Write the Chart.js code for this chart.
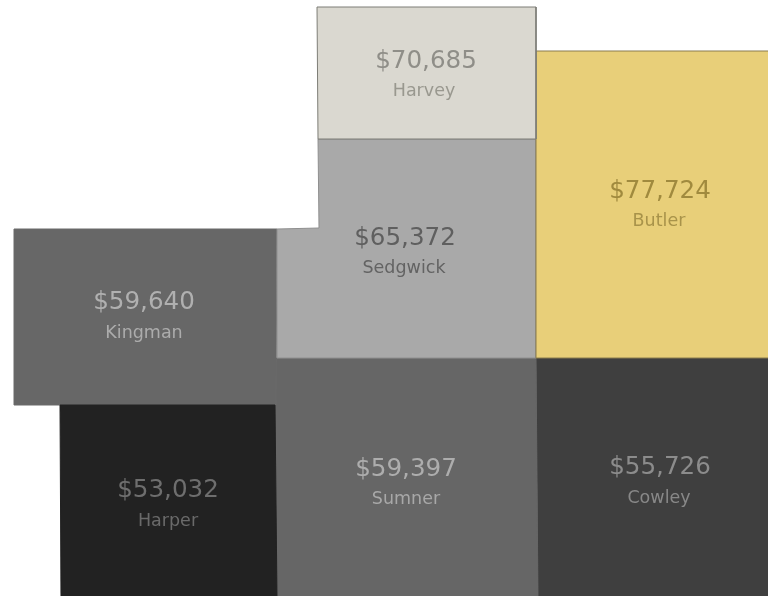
<!DOCTYPE html>
<html>
<head>
<meta charset="utf-8">
<title>Median household income by county</title>
<script src="https://cdn.jsdelivr.net/npm/chart.js@4"></script>
<style>
  html, body { margin: 0; padding: 0; background: #fff; }
  #wrap { width: 768px; height: 596px; }
</style>
</head>
<body>
<div id="wrap"><canvas id="myChart-Counties"></canvas></div>
<script>
// chart.js paints the first dataset last, so counties on top come first
const counties = ['Harvey', 'Butler', 'Sedgwick', 'Harper', 'Kingman', 'Sumner', 'Cowley'];
const incomes = [70685, 77724, 65372, 53032, 59640, 59397, 55726];
const fillColors = ['#dad8d0', '#e8cf79', '#a9a9a9', '#222222', '#676767', '#666666', '#3f3f3f'];
const edgeColors = ['#7d7d76', '#8a7d4e', '#8f8f8f', '#222222', '#6a6a6a', '#666666', '#3f3f3f'];
const valueColors = ['#8f8e88', '#a08a3e', '#5f5f5f', '#6e6e6e', '#b0b0b0', '#adadad', '#8c8c8c'];
const nameColors = ['#99988f', '#a8934a', '#636363', '#6a6a6a', '#acacac', '#a8a8a8', '#888888'];

// county outlines, in map units
const harveyOutline = [[317, 7], [536, 7], [536, 139], [318, 139], [317, 7]];
const butlerOutline = [[536, 51], [771, 51], [771, 358], [536, 358], [536, 51]];
const sedgwickOutline = [[318, 139], [536, 139], [536, 358], [277, 358], [277, 229], [319, 228], [318, 139]];
const harperOutline = [[60, 405], [275, 405], [277, 599], [61, 599], [60, 405]];
const kingmanOutline = [[14, 229], [277, 229], [276, 405], [14, 405], [14, 229]];
const sumnerOutline = [[274, 358], [536, 358], [538, 599], [274, 599], [274, 358]];
const cowleyOutline = [[536, 358], [771, 358], [771, 599], [538, 599], [536, 358]];
const outlines = [harveyOutline, butlerOutline, sedgwickOutline, harperOutline, kingmanOutline, sumnerOutline, cowleyOutline];

// label anchors, in map units
const valueAnchors = [[426, 62], [660, 192], [405, 239], [168, 491], [144, 303], [406, 470], [660, 468]];
const nameAnchors = [[424, 91], [659, 221], [404, 268], [168, 521], [144, 333], [406, 499], [659, 498]];

const countyLabels = {
  id: 'countyLabels',
  afterDatasetsDraw(chart) {
    const { ctx, scales: { x, y } } = chart;
    ctx.save();
    ctx.textAlign = 'center';
    ctx.textBaseline = 'middle';
    counties.forEach((name, i) => {
      ctx.font = '24.6px "DejaVu Sans"';
      ctx.fillStyle = valueColors[i];
      ctx.fillText('$' + incomes[i].toLocaleString('en-US'), x.getPixelForValue(valueAnchors[i][0]), y.getPixelForValue(valueAnchors[i][1]));
      ctx.font = '17.5px "DejaVu Sans"';
      ctx.fillStyle = nameColors[i];
      ctx.fillText(name, x.getPixelForValue(nameAnchors[i][0]), y.getPixelForValue(nameAnchors[i][1]));
    });
    ctx.restore();
  }
};

const ctxCounties = document.getElementById('myChart-Counties');

new Chart(ctxCounties, {
  type: 'scatter',
  data: {
    datasets: counties.map((name, i) => ({
      label: name,
      data: outlines[i].map(p => ({ x: p[0], y: p[1] })),
      showLine: true,
      fill: 'shape',
      tension: 0,
      pointRadius: 0,
      borderWidth: 1,
      borderColor: edgeColors[i],
      backgroundColor: fillColors[i]
    }))
  },
  plugins: [countyLabels],
  options: {
    responsive: true,
    maintainAspectRatio: false,
    animation: false,
    layout: { padding: 0 },
    plugins: {
      legend: { display: false },
      tooltip: { enabled: false }
    },
    scales: {
      x: { display: false, min: 0, max: 768 },
      y: { display: false, min: 0, max: 596, reverse: true }
    }
  }
});
</script>
</body>
</html>
